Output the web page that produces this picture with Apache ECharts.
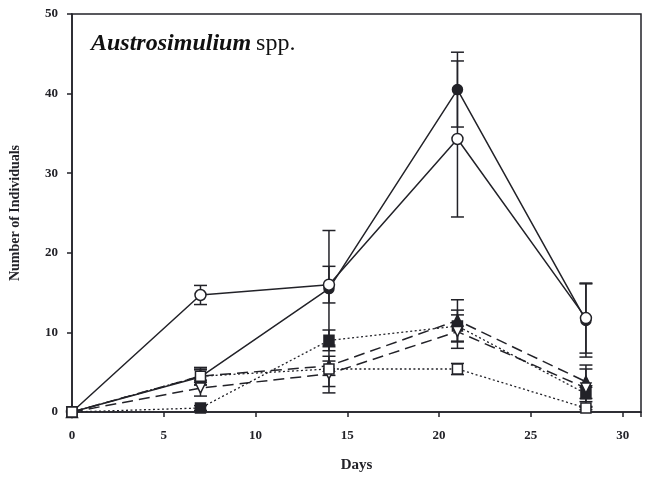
<!DOCTYPE html>
<html>
<head>
<meta charset="utf-8">
<script src="https://cdn.jsdelivr.net/npm/echarts@6/dist/echarts.min.js"></script>
<style>html,body{margin:0;padding:0;background:#fff}#c{width:646px;height:481px}</style>
</head>
<body>
<div id="c"></div>
<script>
var days = [0, 7, 14, 21, 28];
var xTicks = [0, 5, 10, 15, 20, 25, 30];
var yTicks = [0, 10, 20, 30, 40, 50];

var filledCircle = [0, 4.4, 15.5, 40.5, 11.5];
var filledCircleErr = [0, 1.0, 7.3, 4.7, 4.6];
var openCircle = [0, 14.7, 16.0, 34.3, 11.8];
var openCircleErr = [0, 1.2, 2.3, 9.8, 4.4];
var filledTriangle = [0, 4.5, 5.8, 11.5, 3.8];
var filledTriangleErr = [0, 1.1, 1.2, 2.6, 2.1];
var openTriangle = [0, 3.0, 4.8, 10.1, 3.0];
var openTriangleErr = [0, 1.0, 1.6, 2.1, 2.4];
var filledSquare = [0, 0.5, 9.0, 10.8, 2.3];
var filledSquareErr = [0, 0.3, 1.3, 2.0, 1.0];
var openSquare = [0, 4.5, 5.4, 5.4, 0.5];
var openSquareErr = [0, 0.8, 3.0, 0.7, 0.2];

var INK = '#222228';

function pts(vals) { return days.map(function (d, i) { return [d, vals[i]]; }); }
function errData(vals, errs) {
  var out = [];
  days.forEach(function (d, i) { if (errs[i] > 0) out.push([d, vals[i] - errs[i], vals[i] + errs[i]]); });
  return out;
}
function errSeries(vals, errs) {
  return {
    type: 'custom', z: 1, silent: true,
    data: errData(vals, errs),
    renderItem: function (params, api) {
      var lo = api.coord([api.value(0), api.value(1)]);
      var hi = api.coord([api.value(0), api.value(2)]);
      var w = 6.5;
      var st = { stroke: INK, lineWidth: 1.5 };
      return { type: 'group', children: [
        { type: 'line', shape: { x1: lo[0], y1: lo[1], x2: hi[0], y2: hi[1] }, style: st },
        { type: 'line', shape: { x1: lo[0] - w, y1: lo[1], x2: lo[0] + w, y2: lo[1] }, style: st },
        { type: 'line', shape: { x1: hi[0] - w, y1: hi[1], x2: hi[0] + w, y2: hi[1] }, style: st }
      ] };
    }
  };
}
function lineSeries(vals, symbol, filled, ltype, lw, size, rot) {
  return {
    type: 'line', z: 3, data: pts(vals), symbol: symbol, symbolSize: size || 10,
    symbolRotate: rot || 0, showAllSymbol: true,
    lineStyle: { color: INK, width: lw, type: ltype },
    itemStyle: { color: filled ? INK : '#fff', borderColor: INK, borderWidth: 1.5 },
    emphasis: { disabled: true }, animation: false
  };
}

var chart = echarts.init(document.getElementById('c'));
var fontF = '"Liberation Serif", "DejaVu Serif", serif';
chart.setOption({
  animation: false,
  backgroundColor: '#fff',
  grid: { left: 72, right: 5, top: 14, bottom: 69, show: true, borderColor: INK, borderWidth: 1.5, backgroundColor: 'transparent' },
  title: {
    left: 86, top: 27,
    text: '{i|Austrosimulium} {n|spp.}',
    textStyle: { rich: {
      i: { fontFamily: fontF, fontStyle: 'italic', fontWeight: 'bold', fontSize: 24, color: '#111' },
      n: { fontFamily: fontF, fontWeight: 'normal', fontSize: 24, color: '#111' }
    } }
  },
  xAxis: {
    type: 'value', min: 0, max: 31, interval: 5,
    name: 'Days', nameLocation: 'middle', nameGap: 46,
    nameTextStyle: { fontFamily: fontF, fontWeight: 'bold', fontSize: 15, color: INK },
    axisLine: { show: true, lineStyle: { color: INK, width: 1.5 } },
    axisTick: { show: true, inside: false, length: 5, lineStyle: { color: INK, width: 1.5 } },
    axisLabel: { margin: 17, fontFamily: fontF, fontWeight: 'bold', fontSize: 13, color: INK,
      formatter: function (v) { return xTicks.indexOf(v) >= 0 ? String(v) : ''; } },
    splitLine: { show: false }
  },
  yAxis: {
    type: 'value', min: 0, max: 50, interval: 10,
    name: 'Number of Individuals', nameLocation: 'middle', nameGap: 50,
    nameTextStyle: { fontFamily: fontF, fontWeight: 'bold', fontSize: 14, color: INK },
    axisLine: { show: true, lineStyle: { color: INK, width: 1.5 } },
    axisTick: { show: true, inside: false, length: 5, lineStyle: { color: INK, width: 1.5 } },
    axisLabel: { margin: 14, fontFamily: fontF, fontWeight: 'bold', fontSize: 13, color: INK,
      formatter: function (v) { return yTicks.indexOf(v) >= 0 ? String(v) : ''; } },
    splitLine: { show: false }
  },
  series: [
    errSeries(filledCircle, filledCircleErr),
    errSeries(openCircle, openCircleErr),
    errSeries(filledTriangle, filledTriangleErr),
    errSeries(openTriangle, openTriangleErr),
    errSeries(filledSquare, filledSquareErr),
    errSeries(openSquare, openSquareErr),
    lineSeries(filledSquare, 'rect', true, [2, 2.5], 1.3, 10),
    lineSeries(filledTriangle, 'triangle', true, [11, 6], 1.5, 11),
    lineSeries(openTriangle, 'triangle', false, [11, 6], 1.5, 10, 180),
    lineSeries(filledCircle, 'circle', true, 'solid', 1.5, 10),
    lineSeries(openCircle, 'circle', false, 'solid', 1.5, 11),
    lineSeries(openSquare, 'rect', false, [2, 2.5], 1.3, 10)
  ]
});
</script>
</body>
</html>
